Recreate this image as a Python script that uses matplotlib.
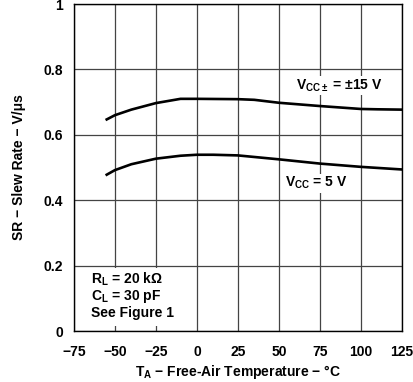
import matplotlib
matplotlib.use("Agg")
import matplotlib.pyplot as plt
from matplotlib.patches import Rectangle

plt.rcParams['font.family'] = ['Liberation Sans', 'DejaVu Sans']
plt.rcParams['font.weight'] = 'bold'
plt.rcParams['mathtext.fontset'] = 'custom'
plt.rcParams['mathtext.rm'] = 'Liberation Sans:bold'
plt.rcParams['mathtext.it'] = 'Liberation Sans:bold'
plt.rcParams['mathtext.bf'] = 'Liberation Sans:bold'
plt.rcParams['mathtext.default'] = 'rm'

temp = [-55, -50, -40, -25, -10, 0, 25, 35, 50, 75, 100, 110, 125]
sr_15v = [0.647, 0.660, 0.677, 0.697, 0.710, 0.710, 0.709, 0.707, 0.698, 0.688, 0.679, 0.678, 0.677]
temp5 = [-55, -50, -40, -25, -10, 0, 10, 25, 50, 75, 100, 125]
sr_5v = [0.478, 0.492, 0.510, 0.527, 0.536, 0.539, 0.539, 0.537, 0.525, 0.512, 0.502, 0.494]

xticks = [-75, -50, -25, 0, 25, 50, 75, 100, 125]
xticklabels = ['\u221275', '\u221250', '\u221225', '0', '25', '50', '75', '100', '125']
yticks = [0, 0.2, 0.4, 0.6, 0.8, 1]
yticklabels = ['0', '0.2', '0.4', '0.6', '0.8', '1']

fig = plt.figure(figsize=(4.13, 3.82), dpi=100)
ax = fig.add_axes([0.179, 0.1335, 0.794, 0.856])
ax.plot(temp, sr_15v, color='black', lw=1.9, zorder=3)
ax.plot(temp5, sr_5v, color='black', lw=1.9, zorder=3)
ax.set_xlim(-75, 125)
ax.set_ylim(0, 1)
ax.set_xticks(xticks)
ax.set_xticklabels(xticklabels)
ax.set_yticks(yticks)
ax.set_yticklabels(yticklabels)
ax.tick_params(axis='x', length=0, labelsize=10, pad=10)
ax.tick_params(axis='y', length=0, labelsize=10, pad=8)
ax.grid(True, color='#444444', lw=0.9)
for s in ax.spines.values():
    s.set_color('black')
    s.set_linewidth(1.0)

ax.set_xlabel('T$_{\\mathrm{A}}$ \u2212 Free-Air Temperature \u2212 \u00b0C',
              fontsize=10, fontweight='bold')
ax.xaxis.set_label_coords(0.5, -0.126)
ax.xaxis.label.set_va('center')
ax.set_ylabel('SR \u2212 Slew Rate \u2212 V/\u03bcs', fontsize=10, fontweight='bold')
ax.yaxis.set_label_coords(-0.167, 0.5)
ax.yaxis.label.set_va('center')

bb = dict(facecolor='white', edgecolor='none', pad=1)
ax.text(87, 0.751, 'V$_{\\mathrm{CC\\pm}}$ = \u00b115 V', fontsize=10,
        fontweight='bold', ha='center', va='center', bbox=bb, zorder=4)
ax.text(73, 0.452, 'V$_{\\mathrm{CC}}$ = 5 V', fontsize=10,
        fontweight='bold', ha='center', va='center', bbox=bb, zorder=4)

ax.add_patch(Rectangle((-68, 0.015), 52, 0.177, facecolor='white', edgecolor='none', zorder=2.5))
ax.text(-64.3, 0.158, 'R$_{\\mathrm{L}}$ = 20 k\u03a9', fontsize=10,
        fontweight='bold', ha='left', va='center', zorder=4)
ax.text(-64.3, 0.105, 'C$_{\\mathrm{L}}$ = 30 pF', fontsize=10,
        fontweight='bold', ha='left', va='center', zorder=4)
ax.text(-64.3, 0.056, 'See Figure 1', fontsize=10,
        fontweight='bold', ha='left', va='center', zorder=4)

fig.savefig('out.png', dpi=100)
